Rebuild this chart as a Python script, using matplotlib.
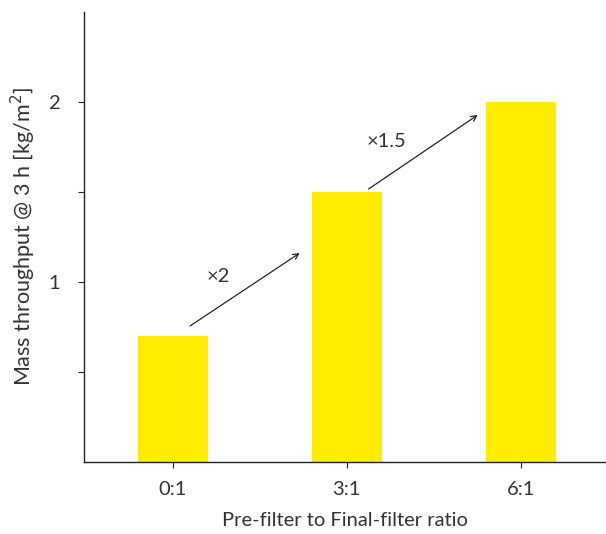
import matplotlib
matplotlib.use("Agg")
from matplotlib import pyplot as plt

# Datos
ratios = ["0:1", "3:1", "6:1"]
throughput = [0.7, 1.5, 2.0]
factor_labels = ["×2", "×1.5"]
# flechas entre barras (inicio, fin) en coordenadas de datos
arrow_starts = [(0.10, 0.756), (1.126, 1.517)]
arrow_ends = [(0.73, 1.161), (1.753, 1.928)]
label_pos = [(0.26, 1.03), (1.23, 1.78)]

plt.rcParams['font.family'] = ['Lato', 'DejaVu Sans']
fs = 14.5
txt_color = "#333333"

fig = plt.figure(figsize=(6.06, 5.34), dpi=100)
ax = fig.add_axes([84 / 606, 72 / 534, 1 - 84 / 606, 450 / 534])

x = list(range(len(ratios)))
ax.bar(x, throughput, width=0.4, color="#FFED00")

ax.set_xlim(-0.51, 2.49)
ax.set_ylim(0, 2.5)
ax.set_xticks(x)
ax.set_xticklabels(ratios)
ax.set_yticks([0.5, 1, 1.5, 2])
ax.set_yticklabels(["", "1", "", "2"])

for s in ["top", "right"]:
    ax.spines[s].set_visible(False)
for s in ["left", "bottom"]:
    ax.spines[s].set_linewidth(1.0)
    ax.spines[s].set_color("#222222")
ax.tick_params(axis="both", length=4, width=0.8, colors="#222222",
               labelsize=fs, labelcolor=txt_color)
ax.tick_params(axis="x", pad=10)
ax.tick_params(axis="y", pad=13)

ax.set_xlabel("Pre-filter to Final-filter ratio", fontsize=fs,
              color=txt_color, labelpad=10)
ax.set_ylabel("Mass throughput @ 3 h [kg/m$^2$]", fontsize=15.5,
              color=txt_color, labelpad=8)

# Flechas con el factor de aumento
for start, end, pos, lab in zip(arrow_starts, arrow_ends, label_pos, factor_labels):
    ax.annotate("", xy=end, xytext=start,
                arrowprops=dict(arrowstyle="->", color="#222222", lw=0.9,
                                shrinkA=0, shrinkB=0))
    ax.text(pos[0], pos[1], lab, fontsize=fs, color=txt_color,
            ha="center", va="center")

fig.savefig("out.png", dpi=100)
